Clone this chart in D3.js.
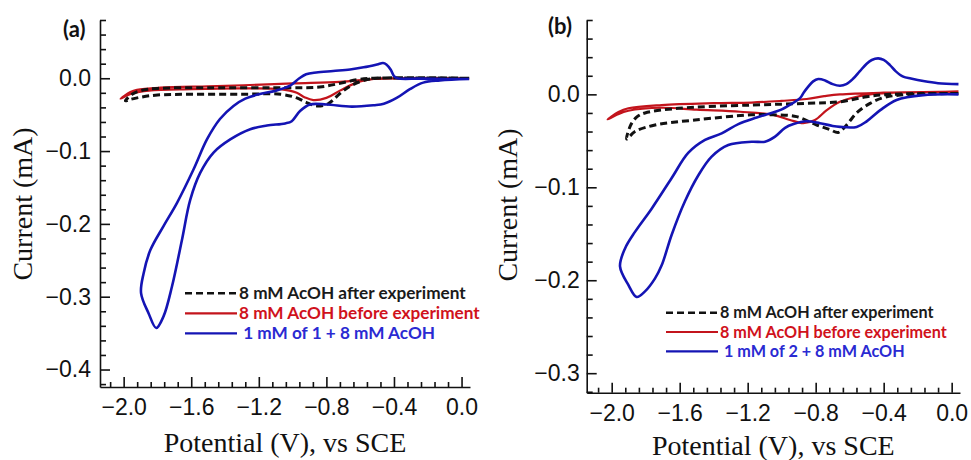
<!DOCTYPE html>
<html>
<head>
<meta charset="utf-8">
<script src="https://cdn.jsdelivr.net/npm/d3@7"></script>
<style>
  body { margin: 0; background: #fff; }
  svg { display: block; }
</style>
</head>
<body>
<script>
// potential (V) and current (mA), one closed CV loop per series

const aBlue = [[0.045,-0.001],[-0.10,-0.001],[-0.25,-0.0005],[-0.38,0.000],[-0.40,0.003],[-0.42,0.012],
  [-0.445,0.019],[-0.465,0.021],[-0.50,0.019],[-0.58,0.015],[-0.66,0.012],[-0.76,0.010],[-0.86,0.008],
  [-0.92,0.0055],[-0.96,0.000],[-1.015,-0.010],[-1.10,-0.017],[-1.20,-0.022],[-1.28,-0.028],[-1.35,-0.038],
  [-1.43,-0.056],[-1.507,-0.084],[-1.586,-0.125],[-1.684,-0.171],[-1.764,-0.203],[-1.842,-0.236],
  [-1.882,-0.268],[-1.897,-0.295],[-1.852,-0.323],[-1.807,-0.343],[-1.764,-0.327],[-1.714,-0.286],
  [-1.655,-0.222],[-1.606,-0.167],[-1.547,-0.130],[-1.468,-0.102],[-1.369,-0.084],[-1.251,-0.070],
  [-1.152,-0.065],[-1.044,-0.062],[-1.005,-0.059],[-0.956,-0.045],[-0.897,-0.036],[-0.80,-0.036],
  [-0.65,-0.039],[-0.52,-0.037],[-0.46,-0.035],[-0.384,-0.027],[-0.306,-0.015],[-0.227,-0.006],
  [-0.128,-0.003],[0.045,-0.001]]

const aRed = [[0.045,0.000],[-0.45,0.000],[-0.52,-0.001],[-0.62,-0.006],[-0.72,-0.017],[-0.80,-0.027],
  [-0.877,-0.030],[-0.93,-0.026],[-0.975,-0.020],[-1.074,-0.015],[-1.30,-0.014],[-1.60,-0.015],
  [-1.85,-0.017],[-1.95,-0.021],[-2.018,-0.028],[-1.96,-0.019],[-1.921,-0.016],[-1.783,-0.013],
  [-1.50,-0.011],[-1.29,-0.0096],[-1.00,-0.007],[-0.72,-0.005],[-0.52,-0.001],[-0.35,0.000],[0.045,0.000]]

const aBlack = [[0.045,0.000],[-0.50,0.000],[-0.58,-0.003],[-0.66,-0.011],[-0.72,-0.021],[-0.79,-0.035],
  [-0.857,-0.038],[-0.92,-0.033],[-0.975,-0.027],[-1.07,-0.022],[-1.30,-0.022],[-1.60,-0.022],
  [-1.80,-0.023],[-1.90,-0.026],[-1.96,-0.029],[-1.99,-0.031],[-1.95,-0.022],[-1.90,-0.017],
  [-1.80,-0.014],[-1.50,-0.013],[-1.00,-0.013],[-0.84,-0.012],[-0.72,-0.007],[-0.62,-0.002],
  [-0.52,0.000],[0.045,0.000]]

const bBlue = [[0.04,0.011],[-0.08,0.012],[-0.167,0.0143],[-0.24,0.017],[-0.285,0.019],[-0.33,0.025],
  [-0.363,0.0315],[-0.40,0.037],[-0.432,0.0387],[-0.47,0.037],[-0.50,0.033],[-0.54,0.025],[-0.579,0.017],
  [-0.62,0.011],[-0.657,0.0093],[-0.70,0.011],[-0.745,0.015],[-0.785,0.0165],[-0.815,0.014],[-0.845,0.008],
  [-0.87,0.002],[-0.892,-0.004],[-0.95,-0.011],[-1.01,-0.017],[-1.079,-0.021],[-1.147,-0.025],
  [-1.255,-0.032],[-1.353,-0.042],[-1.451,-0.049],[-1.55,-0.063],[-1.647,-0.090],[-1.765,-0.123],
  [-1.863,-0.148],[-1.922,-0.166],[-1.951,-0.185],[-1.902,-0.205],[-1.853,-0.218],[-1.804,-0.212],
  [-1.745,-0.198],[-1.706,-0.184],[-1.647,-0.151],[-1.569,-0.115],[-1.49,-0.087],[-1.412,-0.067],
  [-1.314,-0.0545],[-1.176,-0.051],[-1.098,-0.051],[-1.039,-0.0455],[-0.98,-0.036],[-0.93,-0.032],
  [-0.853,-0.029],[-0.775,-0.031],[-0.70,-0.034],[-0.657,-0.035],[-0.559,-0.035],[-0.50,-0.029],
  [-0.42,-0.017],[-0.324,-0.006],[-0.167,-0.0008],[0.04,0.000]]

const bRed = [[0.04,0.003],[-0.30,0.002],[-0.48,0.000],[-0.559,-0.0026],[-0.657,-0.008],[-0.735,-0.017],
  [-0.804,-0.0276],[-0.873,-0.031],[-0.951,-0.0276],[-1.049,-0.022],[-1.245,-0.0187],[-1.50,-0.0165],
  [-1.706,-0.0144],[-1.902,-0.0176],[-1.97,-0.022],[-2.024,-0.027],[-1.96,-0.019],[-1.902,-0.015],
  [-1.706,-0.0115],[-1.40,-0.0095],[-1.176,-0.0088],[-1.00,-0.007],[-0.853,-0.005],[-0.75,-0.002],
  [-0.657,0.000],[-0.40,0.0018],[0.04,0.003]]

const bBlack = [[0.04,0.001],[-0.304,-0.0008],[-0.402,-0.0036],[-0.48,-0.0097],[-0.559,-0.020],
  [-0.618,-0.033],[-0.667,-0.041],[-0.716,-0.038],[-0.794,-0.033],[-0.912,-0.024],[-1.049,-0.022],
  [-1.176,-0.022],[-1.51,-0.0276],[-1.745,-0.033],[-1.863,-0.040],[-1.912,-0.048],[-1.895,-0.036],
  [-1.882,-0.031],[-1.85,-0.024],[-1.804,-0.020],[-1.608,-0.015],[-1.176,-0.0115],[-0.853,-0.0097],
  [-0.657,-0.008],[-0.50,-0.0026],[-0.363,0.000],[0.04,0.001]]

const xMajor = [-2.0, -1.6, -1.2, -0.8, -0.4, 0.0]
const yMajorA = [0.0, -0.1, -0.2, -0.3, -0.4]
const yMajorB = [0.0, -0.1, -0.2, -0.3]

const legendA = ["8 mM AcOH after experiment", "8 mM AcOH before experiment", " 1 mM of 1 + 8 mM AcOH"]
const legendB = ["8 mM AcOH after experiment", "8 mM AcOH before experiment", " 1 mM of 2 + 8 mM AcOH"]

const lineColor = { black: "#111", red: "#c3141c", blue: "#1414b4" }
const textColor = { black: "#1a1a1a", red: "#d0121c", blue: "#2a2ad2" }

const panels = [
  { tag: "(a)", tagX: 63, tagY: 37, xDom: [-2.14, 0.05], xRange: [100, 470],
    yDom: [-0.424, 0.08], yRange: [387, 20], yMajor: yMajorA, yMinorK: [-21, 4],
    yPad: 9, ylabX: 32, ylabY: 204, titleY: 452,
    series: { red: aRed, black: aBlack, blue: aBlue },
    legend: legendA, legX: 185, legY: 293.3, legFont: 17.2, legGap: 20 },
  { tag: "(b)", tagX: 548, tagY: 34, xDom: [-2.147, 0.049], xRange: [586.7, 960],
    yDom: [-0.321, 0.08], yRange: [392.7, 20], yMajor: yMajorB, yMinorK: [-16, 4],
    yPad: 7, ylabX: 517, ylabY: 205, titleY: 455,
    series: { red: bRed, black: bBlack, blue: bBlue },
    legend: legendB, legX: 666, legY: 312.7, legFont: 16.2, legGap: 19.3 }
]

const svg = d3.select("body").append("svg")
    .attr("width", 971)
    .attr("height", 460)

const fmt = d3.format(".1f")

panels.forEach(p => {

  const x = d3.scaleLinear().domain(p.xDom).range(p.xRange)
  const y = d3.scaleLinear().domain(p.yDom).range(p.yRange)

  const g = svg.append("g")

  const xMinor = d3.range(-26, 1).filter(k => k % 5 !== 0).map(k => k * 0.08)
  const yMinor = d3.range(p.yMinorK[0], p.yMinorK[1] + 1).filter(k => k % 5 !== 0).map(k => k * 0.02)

  // minor ticks first, then major axis with the domain line
  g.append("g")
      .attr("transform", "translate(0," + p.yRange[0] + ")")
      .call(d3.axisBottom(x).tickValues(xMinor).tickSize(-5).tickFormat(""))
      .call(a => a.select(".domain").remove())

  g.append("g")
      .attr("transform", "translate(" + p.xRange[0] + ",0)")
      .call(d3.axisLeft(y).tickValues(yMinor).tickSize(-6).tickFormat(""))
      .call(a => a.select(".domain").remove())

  g.append("g")
      .attr("transform", "translate(0," + p.yRange[0] + ")")
      .call(d3.axisBottom(x).tickValues(xMajor).tickSize(-10).tickSizeOuter(0).tickPadding(12).tickFormat(fmt))

  g.append("g")
      .attr("transform", "translate(" + p.xRange[0] + ",0)")
      .call(d3.axisLeft(y).tickValues(p.yMajor).tickSize(-10).tickSizeOuter(0).tickPadding(p.yPad).tickFormat(fmt))

  g.selectAll(".tick line, .domain").attr("stroke", "#111").attr("stroke-width", 1.6)
  g.selectAll(".tick text")
      .attr("font-family", "'Liberation Sans', Arial, sans-serif")
      .attr("font-size", 23)
      .attr("fill", "#111")

  // axis titles
  g.append("text")
      .attr("x", (p.xRange[0] + p.xRange[1]) / 2)
      .attr("y", p.titleY)
      .attr("text-anchor", "middle")
      .attr("font-family", "'Liberation Serif', 'Times New Roman', serif")
      .attr("font-size", 28)
      .attr("fill", "#111")
      .text("Potential (V), vs SCE")

  g.append("text")
      .attr("transform", "translate(" + p.ylabX + "," + p.ylabY + ") rotate(-90)")
      .attr("text-anchor", "middle")
      .attr("font-family", "'Liberation Serif', 'Times New Roman', serif")
      .attr("font-size", 28)
      .attr("fill", "#111")
      .text("Current (mA)")

  g.append("text")
      .attr("x", p.tagX)
      .attr("y", p.tagY)
      .attr("font-family", "Lato, 'Open Sans', sans-serif")
      .attr("font-weight", 700)
      .attr("font-size", 22)
      .attr("fill", "#111")
      .text(p.tag)

  // curves
  const line = d3.line()
      .x(d => x(d[0]))
      .y(d => y(d[1]))
      .curve(d3.curveCatmullRom.alpha(0.5))

  const plot = g.append("g").attr("fill", "none").attr("stroke-linejoin", "round")

  plot.append("path")
      .attr("d", line(p.series.red))
      .attr("stroke", lineColor.red)
      .attr("stroke-width", 2.2)

  plot.append("path")
      .attr("d", line(p.series.black))
      .attr("stroke", lineColor.black)
      .attr("stroke-width", 3)
      .attr("stroke-dasharray", "7,4")

  plot.append("path")
      .attr("d", line(p.series.blue))
      .attr("stroke", lineColor.blue)
      .attr("stroke-width", 2.6)

  // legend
  const keys = ["black", "red", "blue"]
  const leg = g.append("g")
  keys.forEach((k, i) => {
    const ly = p.legY + i * p.legGap
    leg.append("line")
        .attr("x1", p.legX).attr("x2", p.legX + 52)
        .attr("y1", ly).attr("y2", ly)
        .attr("stroke", lineColor[k])
        .attr("stroke-width", k === "black" ? 2.4 : 2.2)
        .attr("stroke-dasharray", k === "black" ? "7,4" : null)
    leg.append("text")
        .attr("x", p.legX + 54)
        .attr("y", ly + 5.5)
        .attr("xml:space", "preserve")
        .style("white-space", "pre")
        .attr("font-family", "Lato, 'Open Sans', sans-serif")
        .attr("font-weight", 700)
        .attr("font-size", p.legFont)
        .attr("fill", textColor[k])
        .text(p.legend[i])
  })
})
</script>
</body>
</html>
